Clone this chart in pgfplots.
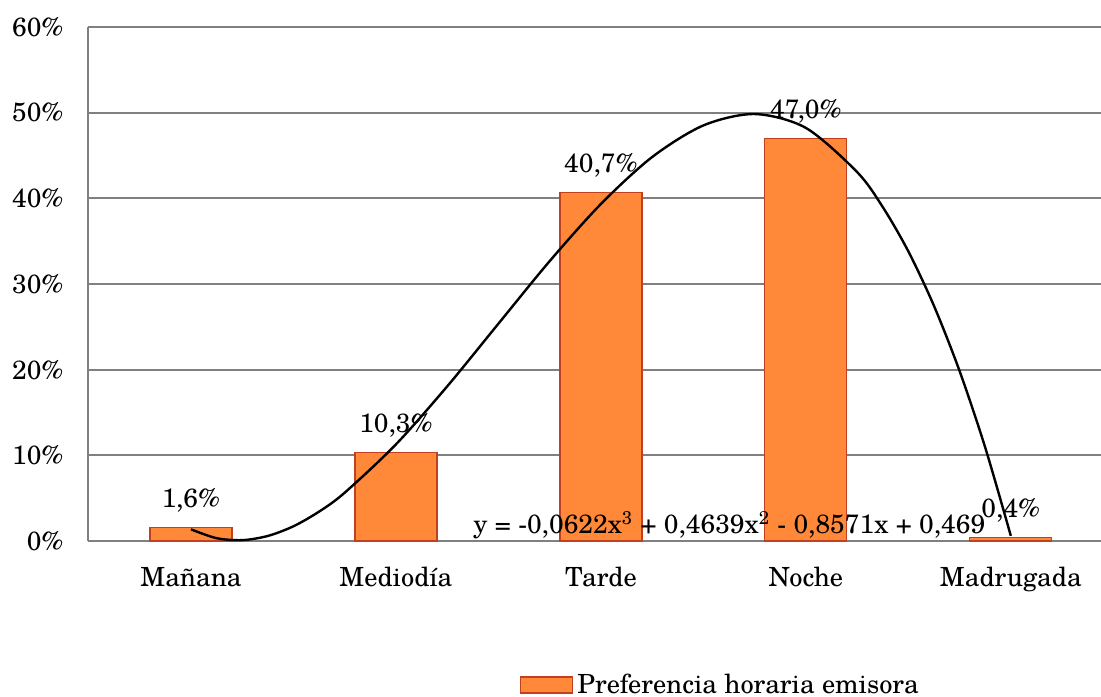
\documentclass[border=0pt]{standalone}
\usepackage{fontspec}
\setmainfont{TeX Gyre Schola}
\usepackage{pgfplots}
\pgfplotsset{compat=1.18}
\definecolor{barfill}{RGB}{255,137,56}
\definecolor{baredge}{RGB}{192,64,32}
\definecolor{axgray}{RGB}{128,128,128}

\begin{document}
\begin{tikzpicture}[font=\fontsize{13.2}{15}\selectfont]
\useasboundingbox (-44.25pt,-77.5pt) rectangle (506.25pt,270.5pt);
\begin{axis}[
    at={(0,0)}, anchor=south west,
    scale only axis,
    width=506.25pt, height=257pt,
    xmin=0.5, xmax=5.44,
    ymin=0, ymax=60,
    axis x line*=bottom,
    axis y line*=left,
    axis line style={axgray, line width=1pt},
    ytick={0,10,...,60},
    yticklabel={\pgfmathparse{int(\tick)}\mbox{\pgfmathresult\%}},
    yticklabel style={xshift=-9pt},
    xtick={1,2,3,4,5},
    xticklabels={Mañana,Mediodía,Tarde,Noche,Madrugada},
    xticklabel style={yshift=-9.5pt},
    major tick length=0pt,
    ymajorgrids=true,
    grid style={axgray, line width=1pt},
    clip=false,
    legend style={at={(0.426,-0.28)}, anchor=west, draw=none, fill=none,
        inner sep=0pt, legend cell align=left,
        /tikz/every even column/.append style={column sep=3pt}},
]
\addplot[ybar, bar width=41pt, fill=barfill, draw=baredge, line width=0.6pt,
    point meta=explicit symbolic,
    nodes near coords={\mbox{\pgfplotspointmeta}},
    nodes near coords style={anchor=south, yshift=4pt, text=black},
    legend image code/.code={\draw[fill=barfill, draw=baredge, line width=0.6pt] (0pt,-4pt) rectangle (26pt,4pt);}]
    coordinates {(1,1.6)[1,6\%] (2,10.3)[10,3\%] (3,40.7)[40,7\%] (4,47.0)[47,0\%] (5,0.4)[0,4\%]};
\addlegendentry{Preferencia horaria emisora}

\addplot[black, line width=1.2pt, smooth, mark=none, forget plot] coordinates {
    (1,1.36) (1.125,0.33) (1.25,0.10) (1.375,0.59) (1.5,1.72) (1.625,3.43)
    (1.75,5.64) (2,11.28) (2.25,18.05) (2.5,25.37) (2.75,32.67) (3,39.34)
    (3.25,44.82) (3.5,48.51) (3.75,49.84) (4,48.22) (4.25,43.07)
    (4.375,38.99) (4.5,33.81) (4.625,27.45) (4.75,19.84) (4.875,10.92)
    (5,0.60)};

\node[anchor=base west, inner sep=0pt] at (axis cs:2.376,0.93)
    {y = -0,0622x\textsuperscript{3} + 0,4639x\textsuperscript{2} - 0,8571x + 0,469};
\end{axis}
\end{tikzpicture}
\end{document}
